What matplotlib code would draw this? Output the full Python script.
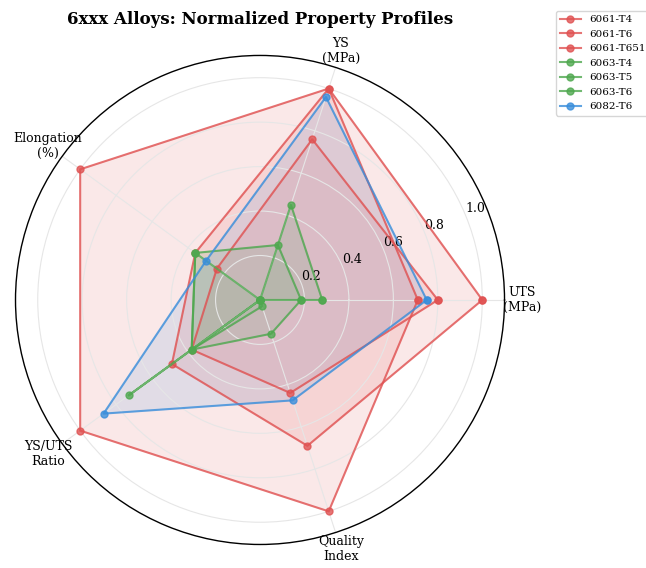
import numpy as np
import matplotlib
matplotlib.use("Agg")
import matplotlib.pyplot as plt

categories = ["UTS\n(MPa)", "YS\n(MPa)", "Elongation\n(%)", "YS/UTS\nRatio", "Quality\nIndex"]
alloys = ["6061-T4", "6061-T6", "6061-T651", "6063-T4", "6063-T5", "6063-T6", "6082-T6"]
v_6061_T4 = [0.71, 1.00, 1.00, 1.00, 1.00]
v_6061_T6 = [1.00, 1.00, 0.36, 0.49, 0.69]
v_6061_T651 = [0.80, 0.76, 0.24, 0.38, 0.44]
v_6063_T4 = [0.00, 0.00, 0.36, 0.38, 0.03]
v_6063_T5 = [0.185, 0.26, 0.36, 0.38, 0.16]
v_6063_T6 = [0.28, 0.45, 0.00, 0.73, 0.00]
v_6082_T6 = [0.75, 0.96, 0.30, 0.87, 0.475]
series = [v_6061_T4, v_6061_T6, v_6061_T651, v_6063_T4, v_6063_T5, v_6063_T6, v_6082_T6]
colors = ["#E05252", "#E05252", "#E05252", "#4FA84F", "#4FA84F", "#4FA84F", "#3A8EDB"]
rticks = [0.2, 0.4, 0.6, 0.8, 1.0]

plt.rcParams['font.family'] = ['DejaVu Serif']

fig = plt.figure(figsize=(6.46, 5.68), dpi=100)
ax = fig.add_axes([0.024, 0.0414, 0.757, 0.861], projection='polar')

n = len(categories)
angles = np.linspace(0, 2 * np.pi, n, endpoint=False).tolist()
angles_c = angles + angles[:1]

for name, vals, col in zip(alloys, series, colors):
    v = list(vals) + [vals[0]]
    ax.plot(angles_c, v, color=col, linewidth=1.5, alpha=0.8, marker='o', markersize=5, label=name)
    ax.fill(angles_c, v, color=col, alpha=0.13)

ax.set_ylim(0, 1.1)
ax.set_xticks(angles)
ax.set_xticklabels(categories, fontsize=9)
ax.set_yticks(rticks)
ax.set_yticklabels([f"{t:.1f}" for t in rticks], fontsize=9)
ax.set_rlabel_position(22.5)
ax.grid(color='#e6e6e6', linewidth=0.8)
ax.spines['polar'].set_color('black')
ax.spines['polar'].set_linewidth(1.0)
ax.tick_params(axis='x', pad=2)

fig.text(0.402, 0.965, "6xxx Alloys: Normalized Property Profiles", ha='center', va='center',
         fontsize=12, fontweight='bold')
leg = ax.legend(loc='upper left', bbox_to_anchor=(0.852, 0.99), bbox_transform=fig.transFigure,
                fontsize=7.5, frameon=True)
leg.get_frame().set_edgecolor('#cccccc')

fig.savefig("out.png", dpi=100)
